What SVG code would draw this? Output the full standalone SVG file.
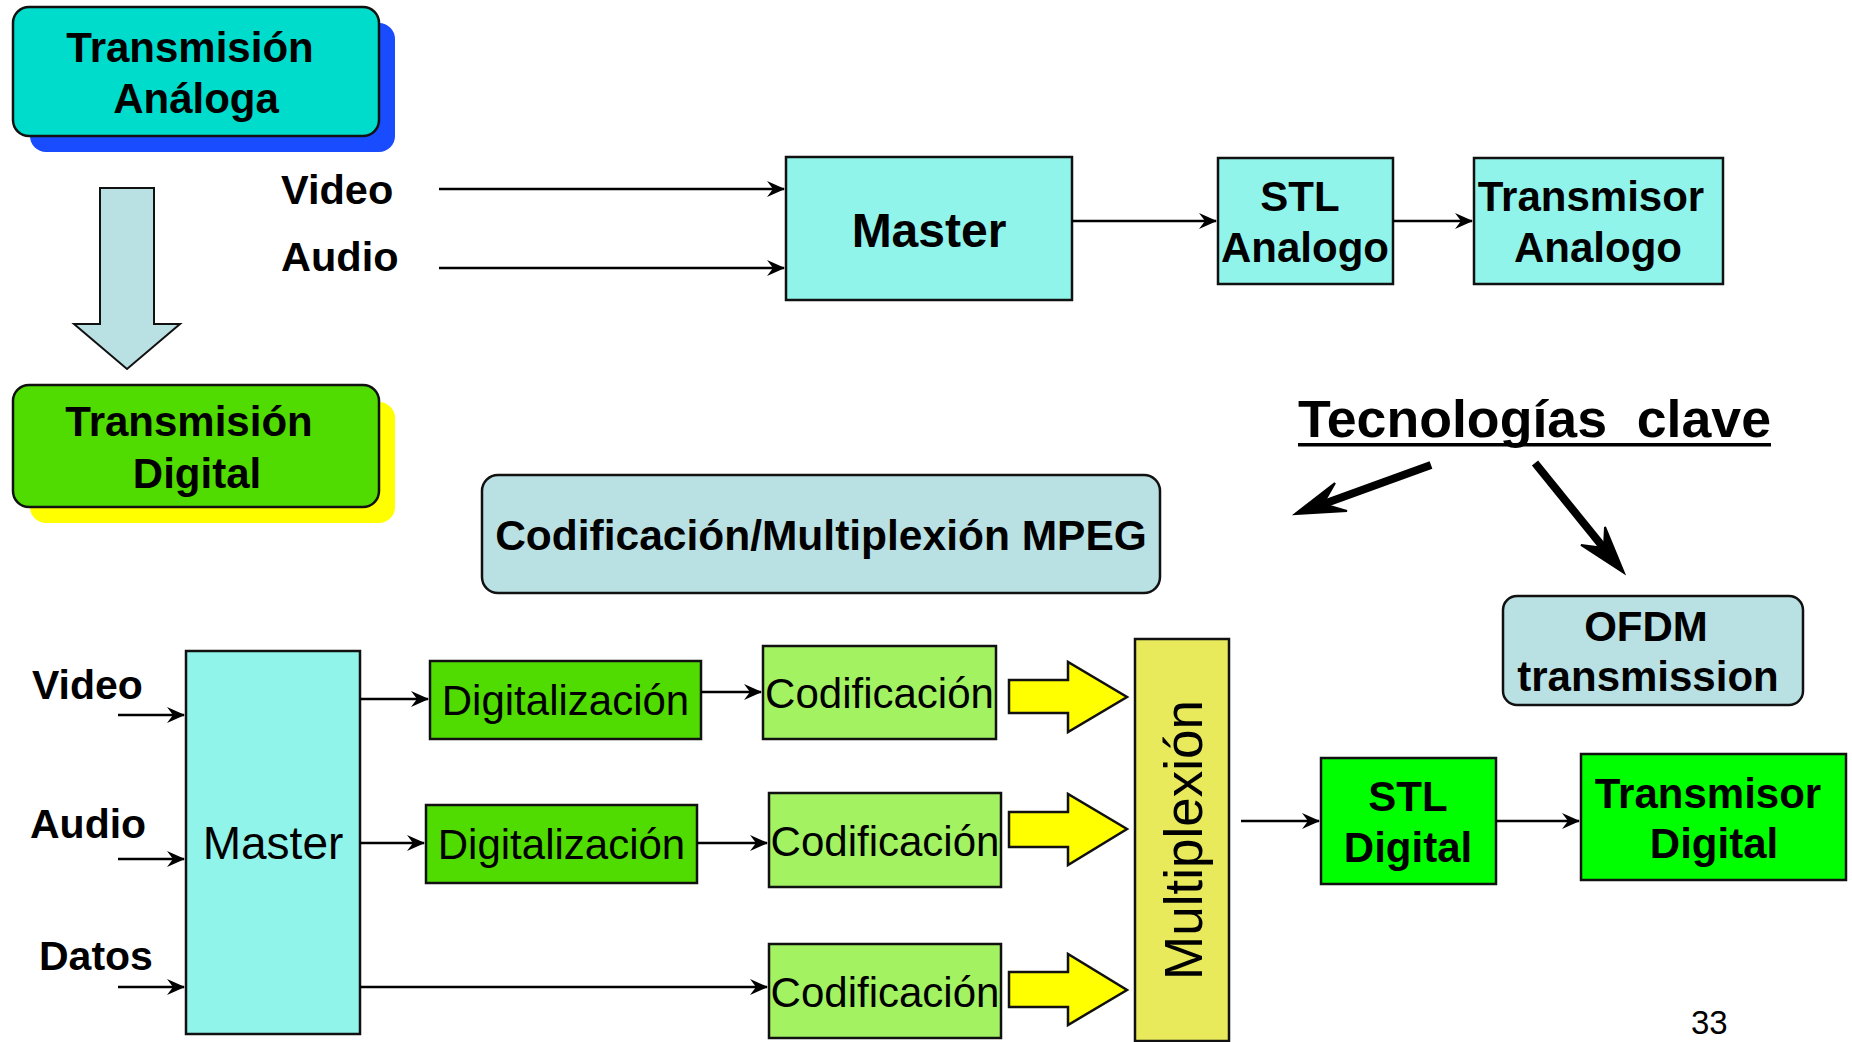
<svg xmlns="http://www.w3.org/2000/svg" width="1852" height="1042" viewBox="0 0 1852 1042">
<style>
text{font-family:"Liberation Sans",Arial,sans-serif;fill:#000}
.b{font-weight:bold}
.box{stroke:#111;stroke-width:2.5}
.ln{stroke:#000;stroke-width:2.5;fill:none}
.c{text-anchor:middle}
</style>
<defs>
<marker id="ah" markerUnits="userSpaceOnUse" markerWidth="18" markerHeight="16" refX="17" refY="8" orient="auto">
<path d="M0,0 L18,8 L0,16 L6,8 z" fill="#000"/>
</marker>
</defs>
<rect width="1852" height="1042" fill="#fff"/>

<g id="transmision-analoga">
<rect x="30" y="23" width="365" height="129" rx="16" fill="#1a4cff"/>
<rect class="box" x="13" y="7" width="366" height="129" rx="16" fill="#00dccb"/>
<text class="b c" x="190" y="62" font-size="42">Transmisión</text>
<text class="b c" x="196" y="113" font-size="42">Análoga</text>
</g>

<g id="down-arrow">
<polygon points="100,188 154,188 154,324 180,324 127,369 74,324 100,324" fill="#b9e0e3" stroke="#111" stroke-width="2"/>
</g>

<g id="transmision-digital">
<rect x="30" y="402" width="365" height="121" rx="16" fill="#ffff00"/>
<rect class="box" x="13" y="385" width="366" height="122" rx="16" fill="#50dc00"/>
<text class="b c" x="189" y="436" font-size="42">Transmisión</text>
<text class="b c" x="197" y="488" font-size="42">Digital</text>
</g>

<g id="labels-top">
<text class="b" x="281" y="204" font-size="41.5">Video</text>
<text class="b" x="281" y="271" font-size="41.5">Audio</text>
</g>

<g id="master-analog">
<rect class="box" x="786" y="157" width="286" height="143" fill="#90f4ea"/>
<text class="b c" x="929" y="247" font-size="48">Master</text>
</g>

<g id="stl-analogo">
<rect class="box" x="1218" y="158" width="175" height="126" fill="#90f4ea"/>
<text class="b c" x="1300" y="211" font-size="42">STL</text>
<text class="b c" x="1305" y="262" font-size="42">Analogo</text>
</g>

<g id="transmisor-analogo">
<rect class="box" x="1474" y="158" width="249" height="126" fill="#90f4ea"/>
<text class="b c" x="1591" y="211" font-size="42">Transmisor</text>
<text class="b c" x="1598" y="262" font-size="42">Analogo</text>
</g>

<g id="tecnologias-clave">
<text class="b" x="1298" y="437" font-size="51" textLength="473" lengthAdjust="spacingAndGlyphs" xml:space="preserve">Tecnologías  clave</text>
<rect x="1298" y="443" width="473" height="3.5" fill="#000"/>
</g>

<g id="codificacion-mpeg">
<rect class="box" x="482" y="475" width="678" height="118" rx="16" fill="#b9e0e3"/>
<text class="b c" x="821" y="550" font-size="42.5">Codificación/Multiplexión MPEG</text>
</g>

<g id="ofdm">
<rect class="box" x="1503" y="596" width="300" height="109" rx="14" fill="#b9e0e3"/>
<text class="b c" x="1646" y="641" font-size="42">OFDM</text>
<text class="b c" x="1648" y="691" font-size="42">transmission</text>
</g>

<g id="labels-bottom">
<text class="b" x="32" y="699" font-size="41">Video</text>
<text class="b" x="30" y="838" font-size="41">Audio</text>
<text class="b" x="39" y="970" font-size="41">Datos</text>
</g>

<g id="master-digital">
<rect class="box" x="186" y="651" width="174" height="383" fill="#90f4ea"/>
<text class="c" x="273" y="859" font-size="46">Master</text>
</g>

<g id="digitalizacion-1">
<rect class="box" x="430" y="661" width="271" height="78" fill="#50dc00"/>
<text class="c" x="565.5" y="715" font-size="42">Digitalización</text>
</g>
<g id="digitalizacion-2">
<rect class="box" x="426" y="805" width="271" height="78" fill="#50dc00"/>
<text class="c" x="561.5" y="859" font-size="42">Digitalización</text>
</g>

<g id="codificacion-1">
<rect class="box" x="763" y="646" width="233" height="93" fill="#a2f262"/>
<text class="c" x="879.5" y="708" font-size="42">Codificación</text>
</g>
<g id="codificacion-2">
<rect class="box" x="769" y="793" width="232" height="94" fill="#a2f262"/>
<text class="c" x="885" y="856" font-size="42">Codificación</text>
</g>
<g id="codificacion-3">
<rect class="box" x="769" y="944" width="232" height="94" fill="#a2f262"/>
<text class="c" x="885" y="1007" font-size="42">Codificación</text>
</g>

<g id="block-arrows" fill="#ffff00" stroke="#111" stroke-width="2.5">
<polygon points="1009,680 1068,680 1068,662 1127,697 1068,732 1068,713 1009,713"/>
<polygon points="1009,812 1068,812 1068,794 1127,829 1068,865 1068,847 1009,847"/>
<polygon points="1009,972 1068,972 1068,954 1127,990 1068,1025 1068,1007 1009,1007"/>
</g>

<g id="multiplexion">
<rect class="box" x="1135" y="639" width="94" height="402" fill="#e8ea5c"/>
<text class="c" transform="translate(1202,840) rotate(-90)" font-size="53">Multiplexión</text>
</g>

<g id="stl-digital">
<rect class="box" x="1321" y="758" width="175" height="126" fill="#00ff00"/>
<text class="b c" x="1408" y="811" font-size="42">STL</text>
<text class="b c" x="1408" y="862" font-size="42">Digital</text>
</g>

<g id="transmisor-digital">
<rect class="box" x="1581" y="754" width="265" height="126" fill="#00ff00"/>
<text class="b c" x="1708" y="808" font-size="42">Transmisor</text>
<text class="b c" x="1714" y="858" font-size="42">Digital</text>
</g>

<g id="connectors">
<line class="ln" x1="439" y1="189" x2="784" y2="189" marker-end="url(#ah)"/>
<line class="ln" x1="439" y1="268" x2="784" y2="268" marker-end="url(#ah)"/>
<line class="ln" x1="1072" y1="221" x2="1216" y2="221" marker-end="url(#ah)"/>
<line class="ln" x1="1393" y1="221" x2="1472" y2="221" marker-end="url(#ah)"/>
<line class="ln" x1="118" y1="715" x2="184" y2="715" marker-end="url(#ah)"/>
<line class="ln" x1="118" y1="859" x2="184" y2="859" marker-end="url(#ah)"/>
<line class="ln" x1="118" y1="987" x2="184" y2="987" marker-end="url(#ah)"/>
<line class="ln" x1="360" y1="699" x2="428" y2="699" marker-end="url(#ah)"/>
<line class="ln" x1="360" y1="843" x2="424" y2="843" marker-end="url(#ah)"/>
<line class="ln" x1="360" y1="987" x2="767" y2="987" marker-end="url(#ah)"/>
<line class="ln" x1="701" y1="692" x2="761" y2="692" marker-end="url(#ah)"/>
<line class="ln" x1="697" y1="843" x2="767" y2="843" marker-end="url(#ah)"/>
<line class="ln" x1="1241" y1="821" x2="1319" y2="821" marker-end="url(#ah)"/>
<line class="ln" x1="1496" y1="821" x2="1579" y2="821" marker-end="url(#ah)"/>
<line stroke="#000" stroke-width="8" x1="1431" y1="465" x2="1318" y2="506"/>
<polygon points="1295,514 1335,483 1323,504 1347,511" fill="#000" stroke="#000" stroke-width="2"/>
<line stroke="#000" stroke-width="8" x1="1535" y1="463" x2="1607" y2="552"/>
<polygon points="1624,573 1581,545 1604,548 1605,527" fill="#000" stroke="#000" stroke-width="2"/>
</g>

<text x="1691" y="1034" font-size="33">33</text>
</svg>
